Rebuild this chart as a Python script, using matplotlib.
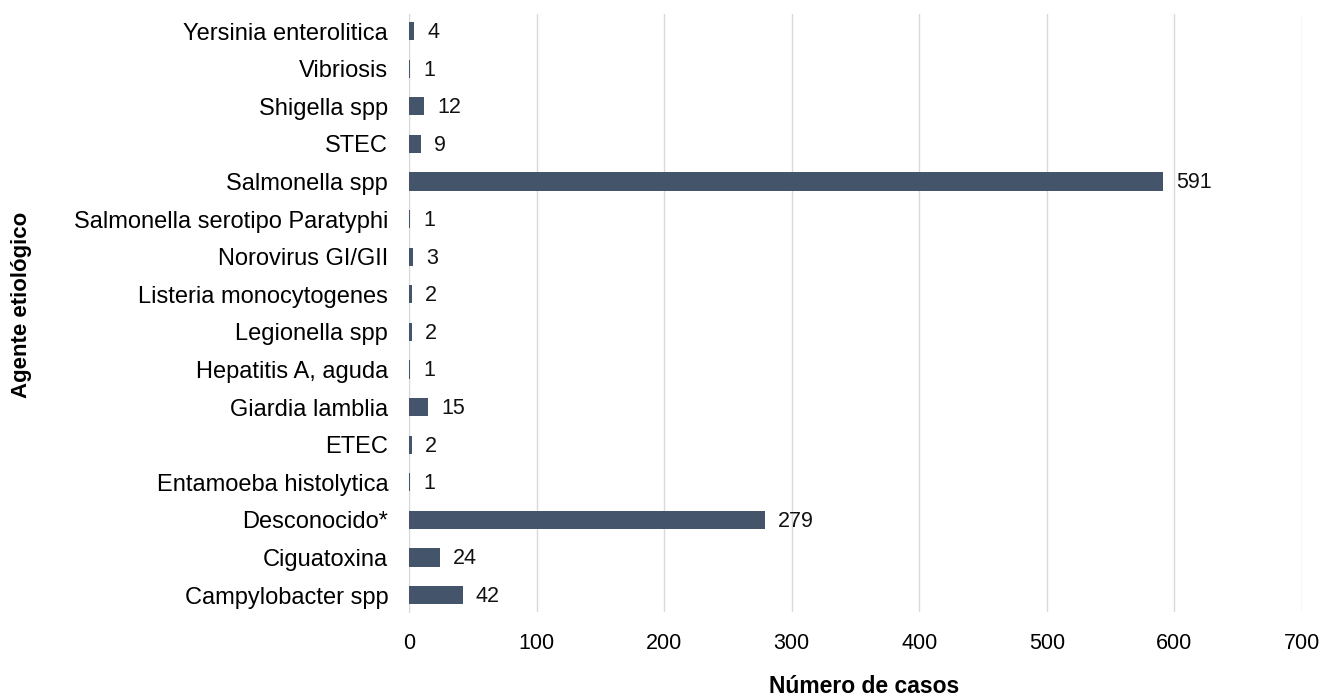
import matplotlib.pyplot as plt

plt.rcParams['font.family'] = ['Liberation Sans', 'DejaVu Sans']

agentes = [
    "Campylobacter spp", "Ciguatoxina", "Desconocido*", "Entamoeba histolytica",
    "ETEC", "Giardia lamblia", "Hepatitis A, aguda", "Legionella spp",
    "Listeria monocytogenes", "Norovirus GI/GII", "Salmonella serotipo Paratyphi",
    "Salmonella spp", "STEC", "Shigella spp", "Vibriosis", "Yersinia enterolitica",
]
casos = [42, 24, 279, 1, 2, 15, 1, 2, 2, 3, 1, 591, 9, 12, 1, 4]
xticks = [0, 100, 200, 300, 400, 500, 600, 700]


def main():
    fig = plt.figure(figsize=(13.25, 7), dpi=100)
    ax = fig.add_axes([0.3087, 0.1257, 0.674, 0.854])

    pos = range(len(agentes))
    ax.barh(pos, casos, height=0.48, color='#44546a', zorder=3)
    for y, v in zip(pos, casos):
        ax.annotate(str(v), (v, y), xytext=(9.5, -1), textcoords='offset points',
                    va='center', ha='left', fontsize=15.5, color='#111111')

    ax.set_yticks(list(pos))
    ax.set_yticklabels(agentes, fontsize=17)
    ax.set_xticks(xticks)
    ax.set_xticklabels([str(t) for t in xticks], fontsize=15.5)
    ax.set_xlim(0, 700)
    ax.set_ylim(-0.45, len(agentes) - 0.55)

    ax.grid(axis='x', color='#d9d9d9', linewidth=1, zorder=0)
    ax.tick_params(length=0)
    ax.tick_params(axis='y', pad=15)
    ax.tick_params(axis='x', pad=15)
    for s in ['top', 'right', 'bottom']:
        ax.spines[s].set_visible(False)
    ax.spines['left'].set_color('#d9d9d9')
    ax.spines['left'].set_zorder(1)

    fig.text(0.652, 0.0186, "Número de casos", ha='center', va='center',
             fontsize=16.5, fontweight='bold')
    fig.text(0.016, 0.564, "Agente etiológico", ha='center', va='center',
             rotation=90, fontsize=16, fontweight='bold')

    fig.savefig("out.png", dpi=100)


if __name__ == "__main__":
    main()
